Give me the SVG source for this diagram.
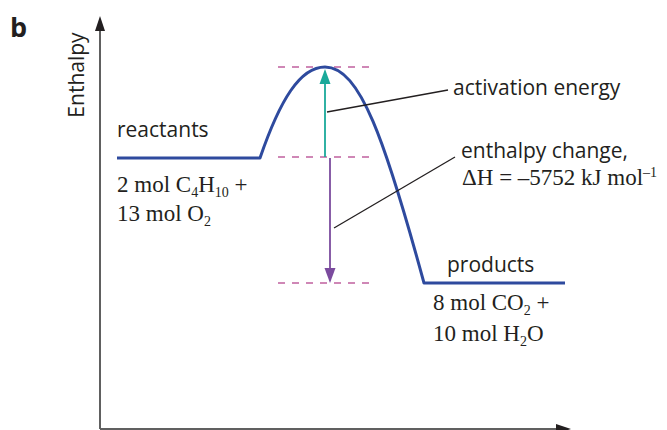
<svg xmlns="http://www.w3.org/2000/svg" width="667" height="430" viewBox="0 0 667 430">
<style>
.sans{font-family:"Open Sans","Noto Sans",sans-serif;font-size:21px;fill:#231f20}
.serif{font-family:"Liberation Serif","Times New Roman",serif;font-size:23px;fill:#231f20}
.sub{font-size:14px}
.dash{stroke:#c0609f;stroke-width:1.6;stroke-dasharray:7,7;fill:none}
.curve{stroke:#2e4a9e;stroke-width:3;fill:none;stroke-linejoin:round}
.lead{stroke:#231f20;stroke-width:1.3;fill:none}
.axis{stroke:#606060;stroke-width:2;fill:none}
</style>
<text x="10" y="37" style="font-family:'Open Sans','Noto Sans',sans-serif;font-size:27px;font-weight:bold;fill:#231f20">b</text>
<g id="axes">
<line class="axis" x1="100" y1="429" x2="100" y2="30"/>
<path d="M95,31 L100,16 L105,31 Z" fill="#231f20"/>
<line class="axis" x1="100" y1="429" x2="558" y2="429"/>
<path d="M556,424 L571,429 L556,434 Z" fill="#231f20"/>
<text class="sans" transform="translate(84,75) rotate(-90)" text-anchor="middle">Enthalpy</text>
</g>
<g id="dashes">
<line class="dash" x1="278" y1="67" x2="372" y2="67"/>
<line class="dash" x1="278" y1="157" x2="372" y2="157"/>
<line class="dash" x1="278" y1="283" x2="372" y2="283"/>
</g>
<g id="curve">
<path class="curve" d="M117,158 L260,158 C280,100 300,67 325,67 C360,67 385,140 424,283 L565,283"/>
</g>
<g id="connectors">
<line x1="325" y1="157" x2="325" y2="82" stroke="#1aa99a" stroke-width="1.8"/>
<path d="M319.5,84 L325,69 L330.5,84 Z" fill="#1aa99a"/>
<line x1="330" y1="158" x2="330" y2="270" stroke="#7b4b9e" stroke-width="1.8"/>
<path d="M324.5,268 L330,283 L335.5,268 Z" fill="#7b4b9e"/>
<line class="lead" x1="327" y1="112" x2="448" y2="90"/>
<line class="lead" x1="334" y1="228" x2="455" y2="157"/>
</g>
<g id="reactants">
<text class="sans" x="117" y="137">reactants</text>
<text class="serif" x="117" y="192">2 mol C<tspan class="sub" dy="5">4</tspan><tspan dy="-5">H</tspan><tspan class="sub" dy="5">10</tspan><tspan dy="-5"> +</tspan></text>
<text class="serif" x="117" y="221">13 mol O<tspan class="sub" dy="5">2</tspan></text>
</g>
<g id="products">
<text class="sans" x="447" y="272">products</text>
<text class="serif" x="433" y="310">8 mol CO<tspan class="sub" dy="5">2</tspan><tspan dy="-5"> +</tspan></text>
<text class="serif" x="433" y="341">10 mol H<tspan class="sub" dy="5">2</tspan><tspan dy="-5">O</tspan></text>
</g>
<g id="activation">
<text class="sans" x="453" y="95">activation energy</text>
</g>
<g id="enthalpy-change">
<text class="sans" x="461" y="158">enthalpy change,</text>
<text class="serif" x="462" y="185">ΔH = –5752 kJ mol<tspan class="sub" dy="-8">–1</tspan></text>
</g>
</svg>
